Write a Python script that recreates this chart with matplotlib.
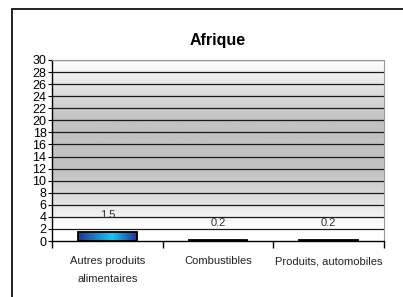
import matplotlib.pyplot as plt
import numpy as np
from matplotlib.colors import LinearSegmentedColormap
from matplotlib.patches import Rectangle

# chart data
categories = ["Autres produits\nalimentaires", "Combustibles", "Produits, automobiles"]
values = [1.5, 0.2, 0.2]
labels = ["1.5", "0.2", "0.2"]
y_ticks = list(range(0, 31, 2))

plt.rcParams['font.family'] = ['Liberation Sans', 'DejaVu Sans']

W, H = 403, 297
fig = plt.figure(figsize=(W / 100, H / 100), dpi=100)

# outer frame
fig.patches.append(Rectangle((11.5 / W, -0.1), 1.2, (H - 9.5) / H + 0.1,
                             transform=fig.transFigure, fill=False,
                             edgecolor='#222222', linewidth=1.4))

ax = fig.add_axes([52 / W, 1 - 241 / H, 332 / W, 181 / H])
x = np.arange(len(categories))
ax.set_xlim(-0.5, len(categories) - 0.5)
ax.set_ylim(0, 30)

# background gradient: white -> grey -> white
bg = LinearSegmentedColormap.from_list("bg", [(0, "#ffffff"), (0.33, "#c2c2c2"),
                                              (0.62, "#c2c2c2"), (0.92, "#ffffff"),
                                              (1, "#ffffff")])
grad = np.linspace(0, 1, 256).reshape(-1, 1)
ax.imshow(grad, cmap=bg, aspect='auto', extent=(-0.5, len(categories) - 0.5, 0, 30),
          origin='upper', zorder=0)

for yv in y_ticks[1:]:
    ax.axhline(yv, color='#1a1a1a', linewidth=0.9, zorder=1)

# bars with horizontal blue gradient
barcm = LinearSegmentedColormap.from_list("bar", [(0, "#26338f"), (0.58, "#10c8f8"), (1, "#22309a")])
hgrad = np.linspace(0, 1, 256).reshape(1, -1)
bars = ax.bar(x, values, width=0.53, color='none', edgecolor='black', linewidth=1.3, zorder=3)
for b in bars:
    im = ax.imshow(hgrad, cmap=barcm, aspect='auto',
                   extent=(b.get_x(), b.get_x() + b.get_width(), 0, b.get_height()),
                   zorder=2)
    im.set_clip_path(b)

for xi, v, lab in zip(x, values, labels):
    ax.annotate(lab, (xi, v), xytext=(0, 12), textcoords='offset points',
                ha='center', va='center', fontsize=8, color='#333333', zorder=4)

ax.set_title("Afrique", fontsize=11.5, fontweight='bold', pad=11)

ax.set_yticks(y_ticks)
ax.tick_params(axis='y', labelsize=9, length=3, pad=1)
ax.set_xticks([-0.5, 0.5, 1.5, 2.5])
ax.set_xticklabels([])
ax.tick_params(axis='x', length=5, width=1)
for xi, c in zip(x, categories):
    ax.text(xi, -0.085, c, transform=ax.get_xaxis_transform(), ha='center', va='top',
            fontsize=8, linespacing=2.0, color='#222222')

for s in ['top', 'right']:
    ax.spines[s].set_color('#999999')
ax.spines['left'].set_linewidth(1.0)
ax.spines['bottom'].set_linewidth(1.0)

fig.savefig("out.png", dpi=100)
